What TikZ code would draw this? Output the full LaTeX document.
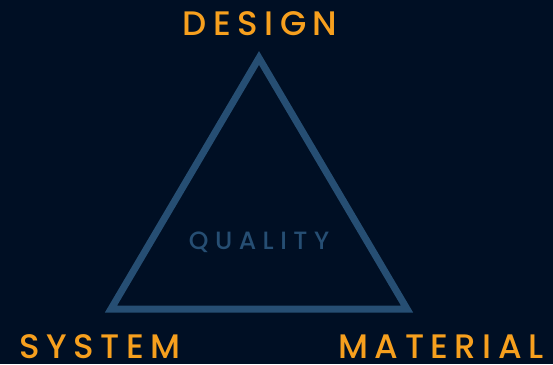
\documentclass[tikz,border=0pt]{standalone}
\usepackage{fontspec}
\newfontfamily\labfont[LetterSpace=19,UprightFont={* Medium}]{Poppins}
\newfontfamily\qfont[LetterSpace=26,UprightFont={* Medium}]{Poppins}
\definecolor{bgnavy}{RGB}{0,15,36}
\definecolor{labor}{RGB}{247,160,30}
\definecolor{triblue}{RGB}{38,78,115}
\begin{document}
\begin{tikzpicture}[x=1pt,y=1pt,
  lab/.style={text=labor,font=\labfont\fontsize{34}{34}\selectfont,inner sep=0pt,anchor=base},
  qual/.style={text=triblue,font=\qfont\fontsize{25}{25}\selectfont,inner sep=0pt,anchor=base}]
\fill[bgnavy] (0,0) rectangle (553,364);
\useasboundingbox (0,0) rectangle (553,364);
\coordinate (top) at (259,306);
\coordinate (bl) at (111,55);
\coordinate (br) at (407,55);
\draw[triblue,line width=7pt,line join=miter] (top) -- (bl) -- (br) -- cycle;
\node[lab] (design) at (260,328) {DESIGN};
\node[lab] (system) at (100,6) {SYSTEM};
\node[lab] (material) at (441,6) {MATERIAL};
\node[qual] (quality) at (259,114) {QUALITY};
\end{tikzpicture}
\end{document}
